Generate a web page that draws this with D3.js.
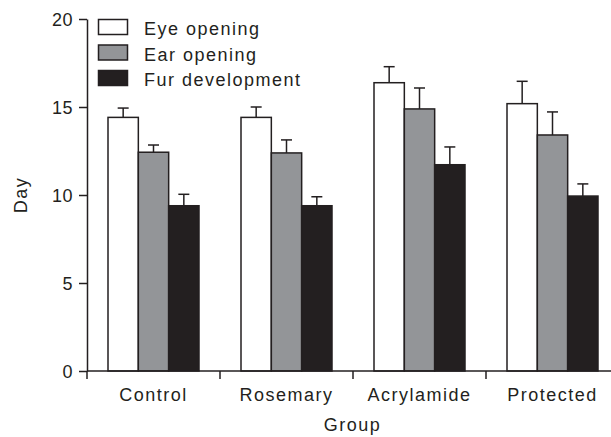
<!DOCTYPE html>
<html><head><meta charset="utf-8">
<script src="https://cdn.jsdelivr.net/npm/d3@7"></script>
<style>
body{margin:0;background:#fff;}
text{font-family:"Liberation Sans",Arial,sans-serif;fill:#231f20;}
</style></head>
<body><svg id="c" width="611" height="437"></svg>
<script>
const categories = ["Control","Rosemary","Acrylamide","Protected"];
const seriesNames = ["Eye opening","Ear opening","Fur development"];
const eyeOpening = [14.41, 14.41, 16.38, 15.19];
const earOpening = [12.43, 12.39, 14.89, 13.41];
const furDevelopment = [9.39, 9.39, 11.72, 9.94];
const eyeErr = [0.53, 0.59, 0.91, 1.27];
const earErr = [0.41, 0.74, 1.19, 1.31];
const furErr = [0.65, 0.51, 1.01, 0.69];
const yTicks = [0,5,10,15,20];
const colors = ["#ffffff","#939598","#231f20"];

const values = [eyeOpening, earOpening, furDevelopment];
const errs = [eyeErr, earErr, furErr];
const ink = "#231f20";
const svg = d3.select("#c");
const fs = "18px", ls = "1.5px";

const x = d3.scaleBand().domain(categories).range([87, 87 + 4*133]).padding(0);
const inner = d3.scaleBand().domain(seriesNames).range([21, 112]).padding(0);
const y = d3.scaleLinear().domain([0,20]).range([371,19]);

// bars
seriesNames.forEach((s, si) => {
  const g = svg.append("g");
  categories.forEach((c, ci) => {
    const v = values[si][ci], e = errs[si][ci];
    const bx = x(c) + inner(s), bw = inner.bandwidth(), cx = bx + bw/2;
    g.append("line").attr("x1",cx).attr("x2",cx).attr("y1",y(v)).attr("y2",y(v+e))
      .attr("stroke",ink).attr("stroke-width",1.5);
    g.append("line").attr("x1",cx-5.5).attr("x2",cx+5.5).attr("y1",y(v+e)).attr("y2",y(v+e))
      .attr("stroke",ink).attr("stroke-width",1.5);
    g.append("rect").attr("x",bx).attr("y",y(v)).attr("width",bw).attr("height",y(0)-y(v))
      .attr("fill",colors[si]).attr("stroke",ink).attr("stroke-width",1.5);
  });
});

// y axis
const yAxis = d3.axisLeft(y).tickValues(yTicks).tickSize(8).tickPadding(6).tickSizeOuter(0);
const ya = svg.append("g").attr("transform","translate(87,0)").call(yAxis);
ya.select(".domain").attr("stroke",ink).attr("stroke-width",1.5);
ya.selectAll(".tick line").attr("stroke",ink).attr("stroke-width",1.5);
ya.selectAll(".tick text").style("font-size",fs).style("letter-spacing","0.5px")
  .attr("font-family","Liberation Sans, Arial, sans-serif").attr("fill",ink).attr("dy","0.36em");

// x axis
const xa = svg.append("g").attr("transform","translate(0,371)");
xa.append("line").attr("x1",87).attr("x2",611).attr("y1",0).attr("y2",0).attr("stroke",ink).attr("stroke-width",1.5);
categories.forEach(c => {
  xa.append("line").attr("x1",x(c)).attr("x2",x(c)).attr("y1",0).attr("y2",8).attr("stroke",ink).attr("stroke-width",1.5);
});
const xAxis = d3.axisBottom(x).tickSize(0).tickPadding(0);
const xl = svg.append("g").attr("transform","translate(0,371)").call(xAxis);
xl.select(".domain").remove();
xl.selectAll(".tick text").attr("y",30).attr("dy",0).style("font-size",fs).style("letter-spacing",ls)
  .attr("font-family","Liberation Sans, Arial, sans-serif").attr("fill",ink);

// axis titles
svg.append("text").attr("x",352.5).attr("y",431).attr("text-anchor","middle")
  .style("font-size",fs).style("letter-spacing",ls).text("Group");
svg.append("text").attr("transform","translate(27,195) rotate(-90)").attr("text-anchor","middle")
  .style("font-size",fs).style("letter-spacing",ls).text("Day");

// legend
seriesNames.forEach((s, i) => {
  const ly = 19.5 + i*25.5;
  svg.append("rect").attr("x",98.5).attr("y",ly).attr("width",29).attr("height",15)
    .attr("fill",colors[i]).attr("stroke",ink).attr("stroke-width",1.5);
  svg.append("text").attr("x",144).attr("y",ly+15.5).style("font-size",fs).style("letter-spacing",ls).text(s);
});
</script></body></html>
